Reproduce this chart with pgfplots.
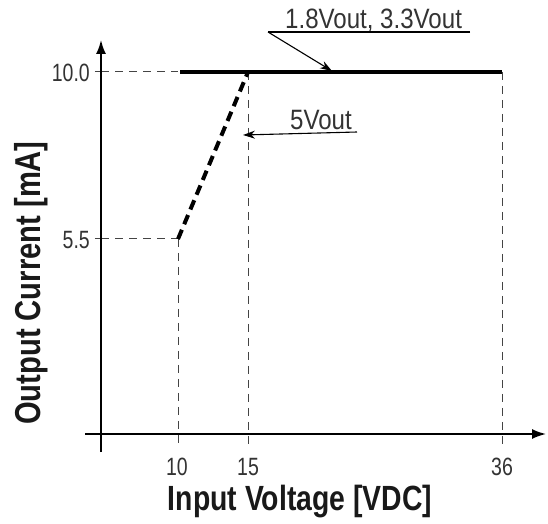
\documentclass[border=0pt]{standalone}
\usepackage{pgfplots}
\pgfplotsset{compat=1.18}
\usetikzlibrary{arrows.meta}
\usepackage{fontspec}
\setmainfont{Liberation Sans}
\newfontfamily\tickfont{Liberation Sans}[FakeStretch=0.78]
\newfontfamily\annfont{Liberation Sans}[FakeStretch=0.86]
\newfontfamily\labfont{Liberation Sans}[FakeStretch=0.81]
\definecolor{txt}{HTML}{333333}
\definecolor{guidecol}{HTML}{444444}
\begin{document}
\begin{tikzpicture}
\begin{axis}[
  scale only axis, width=548pt, height=523pt,
  hide axis, clip=false,
  x coord trafo/.code={\pgfmathparse{#1>15 ? 15+(#1-15)*0.8639 : #1}},
  x coord inv trafo/.code={\pgfmathparse{#1>15 ? 15+(#1-15)/0.8639 : #1}},
  xmin=-2.714, xmax=39.80, ymin=-2.153, ymax=11.940,
  guideline/.style={guidecol, line width=1pt, dash pattern=on 8pt off 6pt, mark=none},
]
% guide lines
\addplot[guideline] coordinates {(4.5,10) (10,10)};
\addplot[guideline] coordinates {(4.5,5.5) (10,5.5)};
\addplot[guideline] coordinates {(10,5.5) (10,-0.05)};
\addplot[guideline] coordinates {(15,10) (15,-0.05)};
\addplot[guideline] coordinates {(36,10) (36,-0.05)};
\addplot[guideline, solid] coordinates {(4.07,10) (4.5,10)};
\addplot[guideline, solid] coordinates {(4.07,5.5) (4.5,5.5)};
% data
\addplot[black, line width=4pt, mark=none] coordinates {(10.15,10) (36,10)};
\addplot[black, line width=4pt, mark=none, dash pattern=on 10pt off 6pt] coordinates {(10,5.5) (15,10)};
\end{axis}
\begin{scope}[x=1pt,y=1pt]
\path (0,0) rectangle (548,523);
% axes
\draw[black, line width=1.8pt, -{Latex[length=14pt,width=10pt]}] (101,71) -- (101,483);
\draw[black, line width=1.8pt, -{Latex[length=14pt,width=10pt]}] (85,89) -- (546,89);
% tick labels
\node[txt, anchor=base, inner sep=0, font=\tickfont\fontsize{25}{30}\selectfont] at (177,48) {10};
\node[txt, anchor=base, inner sep=0, font=\tickfont\fontsize{25}{30}\selectfont] at (248,48) {15};
\node[txt, anchor=base, inner sep=0, font=\tickfont\fontsize{25}{30}\selectfont] at (502,48) {36};
\node[txt, anchor=base east, inner sep=0, font=\tickfont\fontsize{25}{30}\selectfont] at (90,441) {10.0};
\node[txt, anchor=base east, inner sep=0, font=\tickfont\fontsize{25}{30}\selectfont] at (90,275) {5.5};
% axis labels
\node[black!90, anchor=base, inner sep=0, font=\labfont\bfseries\fontsize{35}{40}\selectfont] at (300,13) {Input Voltage [VDC]};
\node[black!90, anchor=base, inner sep=0, rotate=90, font=\labfont\bfseries\fontsize{36}{40}\selectfont] at (40,240) {Output Current [mA]};
% annotations
\node[txt, anchor=base west, inner sep=0, font=\annfont\fontsize{28}{32}\selectfont] at (285,494) {1.8Vout, 3.3Vout};
\draw[black, line width=1.1pt] (470,491) -- (268,491);
\draw[black, line width=1.1pt, -{Stealth[length=12pt,width=8pt]}] (268,491) -- (332,452);
\node[txt, anchor=base west, inner sep=0, font=\annfont\fontsize{28}{32}\selectfont] at (290,393) {5Vout};
\draw[black, line width=1.1pt, -{Stealth[length=12pt,width=8pt]}] (357,391) -- (243,388);
\end{scope}
\end{tikzpicture}
\end{document}
